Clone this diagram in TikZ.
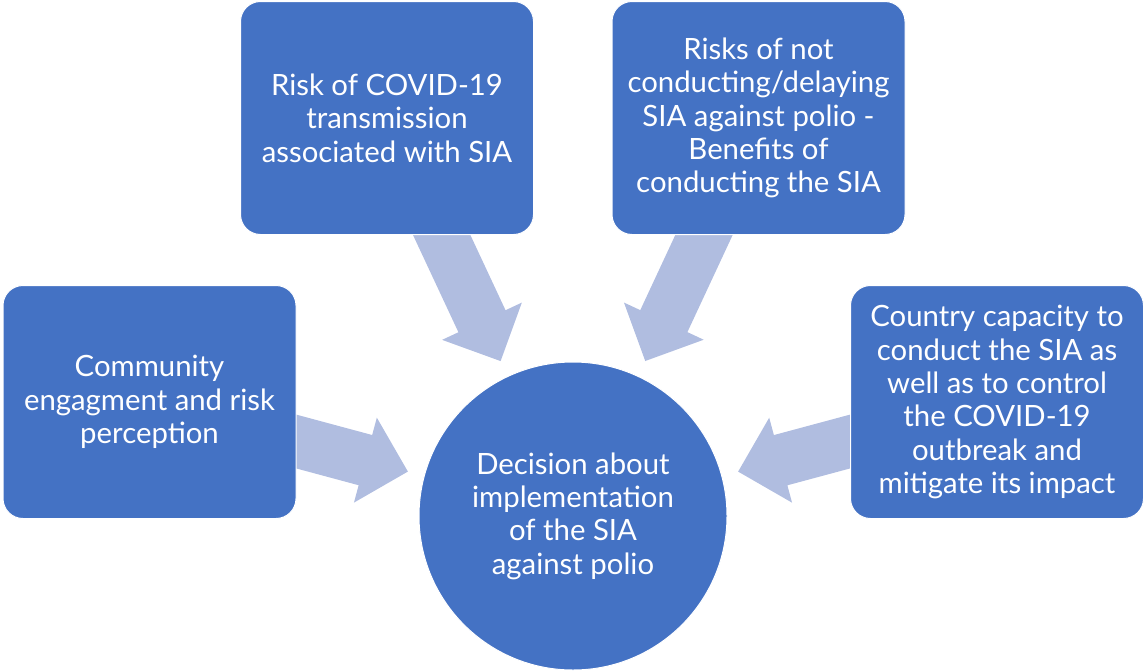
\documentclass[tikz,border=0pt]{standalone}
\usepackage{fontspec}
\setmainfont{Lato}
\usetikzlibrary{calc,backgrounds}
\definecolor{boxblue}{HTML}{4472C4}
\definecolor{feedblue}{HTML}{B0BDE0}

\begin{document}
\begin{tikzpicture}[x=0.75pt, y=-0.75pt,
    factor/.style={rectangle, rounded corners=15pt, fill=boxblue, draw=white, line width=0.75pt,
        text=white, minimum width=219.75pt, minimum height=174.75pt, inner sep=0pt,
        align=center, font=\fontsize{22}{25}\selectfont},
    decision/.style={circle, fill=boxblue, draw=white, line width=0.75pt, text=white,
        minimum size=231pt, inner sep=0pt, align=center, font=\fontsize{22}{25}\selectfont},
    feed/.style={fill=feedblue}]
    \useasboundingbox (0,0) rectangle (1144,671);

    \node[factor] (riskc) at (387,118) {Risk of COVID-19\\transmission\\associated with SIA};
    \node[factor] (riskp) at (758.5,118) {Risks of not\\conducting/delaying\\SIA against polio -\\Benefits of\\conducting the SIA};
    \node[factor] (comm) at (149.5,402) {Community\\engagment and risk\\perception};
    \node[factor] (capac) at (997,402) {Country capacity to\\conduct the SIA as\\well as to control\\the COVID-19\\outbreak and\\mitigate its impact};
    \node[decision] (dec) at (573,516) {Decision about\\implementation\\of the SIA\\against polio};

    % block arrows, tails hidden under the boxes
    \begin{pgfonlayer}{background}
    \foreach \src in {comm, riskc, riskp, capac}
        \fill[feed] ($(\src.center)!19.5pt!-90:(dec.center)$)
            -- ($(dec.center)!161.25pt!(\src.center)!19.5pt!90:(\src.center)$)
            -- ($(dec.center)!161.25pt!(\src.center)!33pt!90:(\src.center)$)
            -- ($(dec.center)!128.25pt!(\src.center)$)
            -- ($(dec.center)!161.25pt!(\src.center)!33pt!-90:(\src.center)$)
            -- ($(dec.center)!161.25pt!(\src.center)!19.5pt!-90:(\src.center)$)
            -- ($(\src.center)!19.5pt!90:(dec.center)$) -- cycle;
    \end{pgfonlayer}
\end{tikzpicture}
\end{document}
